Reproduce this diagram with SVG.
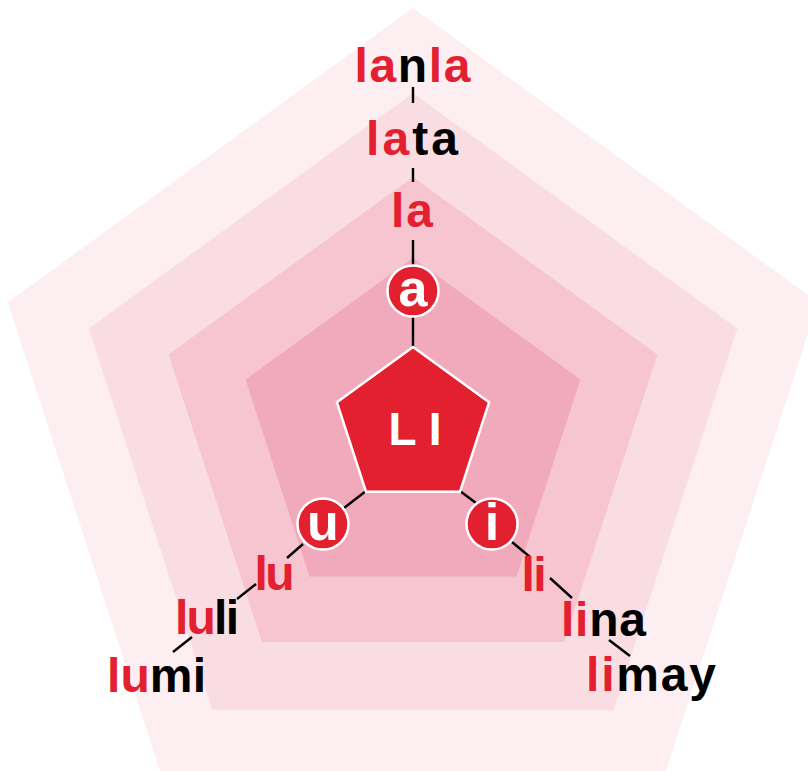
<svg xmlns="http://www.w3.org/2000/svg" width="808" height="771" viewBox="0 0 808 771">
<defs>
<style>
.t{font-family:"Liberation Sans",Arial,sans-serif;font-weight:bold;font-size:48px;text-anchor:middle}
.r{fill:#E3202F}
.k{fill:#000}
.c{fill:#E3202F;stroke:#fff;stroke-width:2.5}
.w{font-family:"Liberation Sans",Arial,sans-serif;font-weight:bold;fill:#fff;text-anchor:middle}
.ln{stroke:#000;stroke-width:2.4;fill:none}
</style>
</defs>
<rect width="808" height="771" fill="#fff"/>
<g id="layers">
<polygon points="413,8 818.15,302.36 663.4,778.64 162.6,778.64 7.85,302.36" fill="#FDEEF1"/>
<polygon points="413,93 737.31,328.62 613.44,709.88 212.56,709.88 88.69,328.62" fill="#FADDE3"/>
<polygon points="413,177 657.42,354.58 564.06,641.92 261.94,641.92 168.58,354.58" fill="#F6C5D0"/>
<polygon points="413,258 580.39,379.61 516.45,576.39 309.55,576.39 245.61,379.61" fill="#F1A9BC"/>
</g>
<g id="connectors" class="ln">
<line x1="413" y1="87" x2="413" y2="103"/>
<line x1="413" y1="168" x2="413" y2="182"/>
<line x1="413" y1="240" x2="413" y2="266"/>
<line x1="413" y1="316" x2="413" y2="347"/>
<line x1="366" y1="491" x2="344" y2="508"/>
<line x1="303" y1="544" x2="287" y2="558"/>
<line x1="256" y1="584" x2="237" y2="599"/>
<line x1="192" y1="637" x2="173" y2="652"/>
<line x1="460" y1="491" x2="476" y2="503"/>
<line x1="512" y1="542" x2="530" y2="557"/>
<line x1="550" y1="578" x2="572" y2="598"/>
<line x1="609" y1="640" x2="630" y2="656"/>
</g>
<g id="node-LI">
<polygon points="413,347 489.08,402.28 460.02,491.72 365.98,491.72 336.92,402.28" fill="#E3202F" stroke="#fff" stroke-width="2.5"/>
<text class="w" x="415" y="445" font-size="46">L I</text>
</g>
<g id="node-a">
<circle class="c" cx="413" cy="291" r="25.5"/>
<text class="w" x="413" y="306" font-size="52">a</text>
</g>
<g id="node-u">
<circle class="c" cx="323" cy="524" r="25.5"/>
<text class="w" x="323" y="540" font-size="52">u</text>
</g>
<g id="node-i">
<circle class="c" cx="492" cy="524" r="25.5"/>
<text class="w" x="492" y="540" font-size="52">i</text>
</g>
<g id="node-la">
<text class="t r" x="412" y="227" textLength="42" lengthAdjust="spacing">la</text>
</g>
<g id="node-lata">
<text class="t" x="412" y="155" textLength="92" lengthAdjust="spacing"><tspan class="r">la</tspan><tspan class="k">ta</tspan></text>
</g>
<g id="node-lanla">
<text class="t" x="412.5" y="82" textLength="116" lengthAdjust="spacing"><tspan class="r">la</tspan><tspan class="k">n</tspan><tspan class="r">la</tspan></text>
</g>
<g id="node-lu">
<text class="t r" x="274.5" y="590" textLength="40" lengthAdjust="spacing">lu</text>
</g>
<g id="node-luli">
<text class="t" x="207" y="634" textLength="64" lengthAdjust="spacing"><tspan class="r">lu</tspan><tspan class="k">li</tspan></text>
</g>
<g id="node-lumi">
<text class="t" x="156.5" y="692" textLength="99" lengthAdjust="spacing"><tspan class="r">lu</tspan><tspan class="k">mi</tspan></text>
</g>
<g id="node-li">
<text class="t r" x="534" y="591" textLength="25" lengthAdjust="spacing">li</text>
</g>
<g id="node-lina">
<text class="t" x="603.5" y="636" textLength="85" lengthAdjust="spacing"><tspan class="r">li</tspan><tspan class="k">na</tspan></text>
</g>
<g id="node-limay">
<text class="t" x="651" y="691" textLength="130" lengthAdjust="spacing"><tspan class="r">li</tspan><tspan class="k">may</tspan></text>
</g>
</svg>
